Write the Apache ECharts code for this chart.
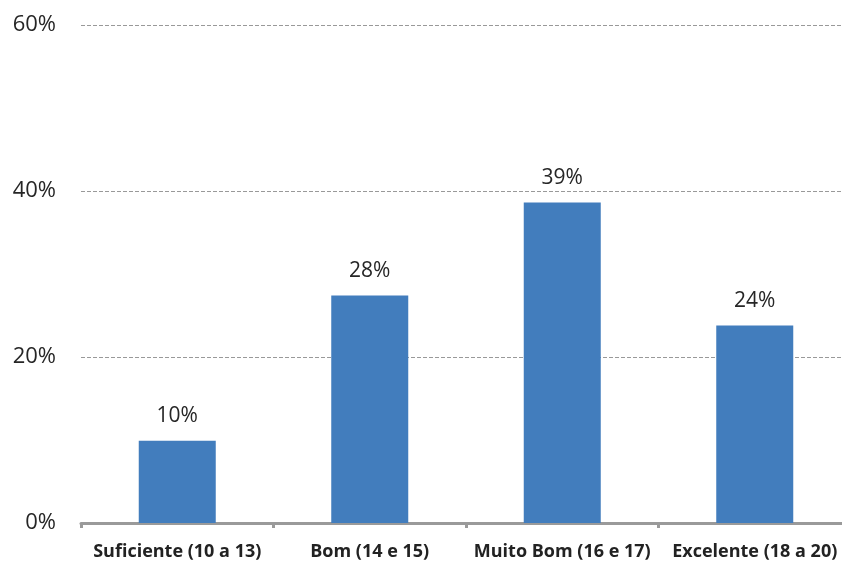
<!DOCTYPE html>
<html>
<head>
<meta charset="utf-8">
<script src="https://cdn.jsdelivr.net/npm/echarts@6/dist/echarts.min.js"></script>
<style>
  html, body { margin: 0; padding: 0; background: #fff; }
  #chart { width: 842px; height: 563px; }
</style>
</head>
<body>
<div id="chart"></div>
<script>
const categories = ['Suficiente (10 a 13)', 'Bom (14 e 15)', 'Muito Bom (16 e 17)', 'Excelente (18 a 20)'];
const values = [9.9, 27.4, 38.6, 23.8];
const labels = ['10%', '28%', '39%', '24%'];

let myChart = echarts.init(document.getElementById('chart'));
myChart.setOption({
  animation: false,
  // plot runs past the right edge, like the original
  grid: { left: 81, width: 770, top: 25, bottom: 40, outerBoundsMode: 'none' },
  xAxis: {
    type: 'category',
    data: categories,
    axisLine: { lineStyle: { color: '#9a9a9a', width: 3 } },
    axisTick: { show: true, length: 5, lineStyle: { color: '#9a9a9a', width: 3 } },
    axisLabel: {
      color: '#222',
      fontFamily: 'Open Sans',
      fontWeight: 'bold',
      fontSize: 18,
      margin: 20,
      interval: 0
    }
  },
  yAxis: {
    type: 'value',
    min: 0,
    max: 60,
    interval: 20,
    axisLine: { show: false },
    axisTick: { show: false },
    splitLine: { lineStyle: { type: 'dashed', color: '#999', width: 1 } },
    axisLabel: {
      formatter: '{value}%',
      color: '#262626',
      fontFamily: 'Open Sans',
      fontSize: 22,
      margin: 25
    }
  },
  series: [{
    type: 'bar',
    data: values,
    barWidth: '40%',
    itemStyle: { color: '#427dbd' },
    label: {
      show: true,
      position: 'top',
      distance: 14,
      color: '#262626',
      fontFamily: 'Open Sans',
      fontSize: 21,
      formatter: p => labels[p.dataIndex]
    }
  }]
});
</script>
</body>
</html>
